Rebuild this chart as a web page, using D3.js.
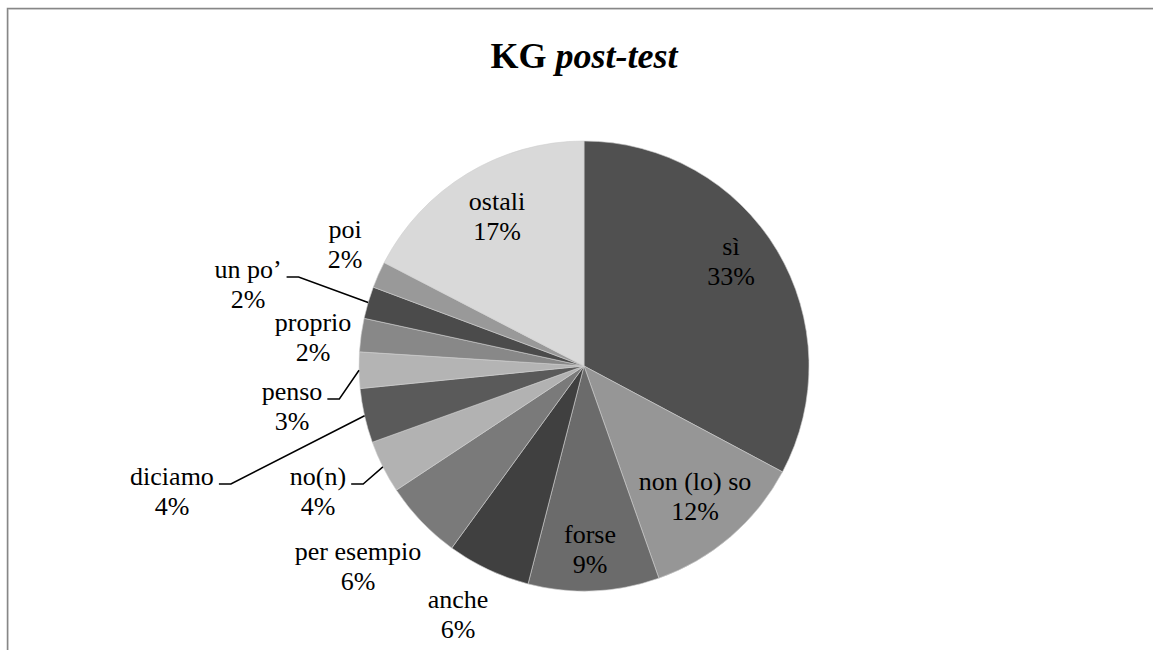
<!DOCTYPE html>
<html lang="en">
<head>
    <meta charset="UTF-8">
    <title>KG post-test</title>
    <script src="https://d3js.org/d3.v7.min.js"></script>
    <style>
        body {
            margin: 0;
            padding: 0;
            background: #fff;
        }
        svg {
            display: block;
        }
        text {
            font-family: "Liberation Serif", "Times New Roman", "DejaVu Serif", serif;
        }
    </style>
</head>
<body>
    <svg id="chart" width="1153" height="650"></svg>

    <script>
        // data (share of each item, in %)
        const categories = ["sì", "non (lo) so", "forse", "anche", "per esempio", "no(n)", "diciamo", "penso", "proprio", "un po’", "poi", "ostali"];
        const values = [32.8, 11.8, 9.4, 6.0, 5.7, 3.8, 3.9, 2.6, 2.4, 2.3, 1.9, 17.4];

        // styles and label layout
        const colors = ["#505050", "#969696", "#6b6b6b", "#404040", "#7a7a7a", "#b2b2b2", "#5a5a5a", "#b4b4b4", "#888888", "#4b4b4b", "#999999", "#d9d9d9"];
        const labelPos = [
            [731, 255], [695, 490], [590, 543], [458, 608], [358, 560], [318, 485],
            [172, 485], [292, 400], [313, 331], [248, 278], [345, 238], [497, 210]
        ];
        const hasLeader = [false, false, false, false, false, true, true, true, false, true, false, false];

        const width = 1153, height = 650;
        const cx = 584, cy = 366, radius = 225;
        const serif = "'Liberation Serif', 'Times New Roman', serif";

        const svg = d3.select("#chart");

        // frame
        svg.append("rect")
            .attr("x", 8.5).attr("y", 9.5)
            .attr("width", width).attr("height", height)
            .attr("fill", "none")
            .attr("stroke", "#e2e2e2")
            .attr("stroke-width", 1);
        svg.append("rect")
            .attr("x", 7.5).attr("y", 8.5)
            .attr("width", width).attr("height", height)
            .attr("fill", "none")
            .attr("stroke", "#878787")
            .attr("stroke-width", 1.5);

        // title
        const title = svg.append("text")
            .attr("x", cx)
            .attr("y", 68)
            .attr("text-anchor", "middle")
            .attr("font-family", serif)
            .attr("font-size", "36px")
            .attr("font-weight", "bold");
        title.append("tspan").text("KG ");
        title.append("tspan").attr("font-style", "italic").text("post-test");

        const total = d3.sum(values);
        const pie = d3.pie().sort(null).value(d => d)(values);
        const arc = d3.arc().innerRadius(0).outerRadius(radius);
        const edge = d3.arc().innerRadius(radius).outerRadius(radius);

        const g = svg.append("g").attr("transform", `translate(${cx},${cy})`);

        g.selectAll("path")
            .data(pie)
            .join("path")
            .attr("d", arc)
            .attr("fill", (d, i) => colors[i])
            .attr("stroke", "#cfcfcf")
            .attr("stroke-width", 0.6);

        // labels
        pie.forEach((d, i) => {
            const [x, y] = labelPos[i];
            const pct = Math.round(values[i] / total * 100) + "%";
            const t = svg.append("text")
                .attr("font-family", serif)
                .attr("font-size", "26px")
                .attr("fill", "#000")
                .attr("text-anchor", "middle");
            t.append("tspan").attr("x", x).attr("y", y).text(categories[i]);
            t.append("tspan").attr("x", x).attr("y", y + 30).text(pct);

            if (hasLeader[i]) {
                const w = t.select("tspan").node().getComputedTextLength();
                const x0 = x + w / 2 + 5;
                const ly = y - 1;
                const [ex, ey] = edge.centroid(d);
                svg.append("path")
                    .attr("d", d3.line()([[x0, ly], [x0 + 12, ly], [cx + ex, cy + ey]]))
                    .attr("fill", "none")
                    .attr("stroke", "#000")
                    .attr("stroke-width", 1.5);
            }
        });
    </script>
</body>
</html>
